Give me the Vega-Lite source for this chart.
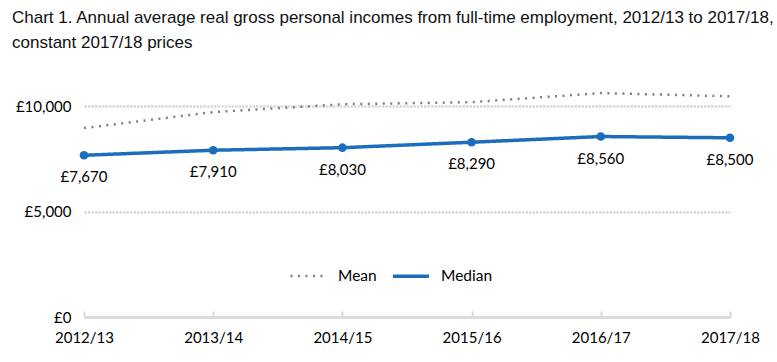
{
  "$schema": "https://vega.github.io/schema/vega-lite/v6.json",
  "autosize": "none",
  "width": 646,
  "height": 253,
  "padding": {"left": 84, "top": 64, "right": 47, "bottom": 45},
  "background": "white",
  "title": {
    "text": ["Chart 1. Annual average real gross personal incomes from full-time employment, 2012/13 to 2017/18,", "constant 2017/18 prices"],
    "anchor": "start",
    "frame": "group",
    "dx": -72,
    "offset": 12,
    "font": "Liberation Sans Narrow, Arial Narrow, Liberation Sans, sans-serif",
    "fontSize": 17,
    "fontWeight": "normal",
    "color": "#111111",
    "lineHeight": 25
  },
  "config": {
    "view": {"stroke": null},
    "font": "Lato",
    "axis": {"labelFont": "Lato", "labelFontSize": 15, "labelColor": "#000000", "titleFont": "Lato"},
    "legend": {"labelFont": "Lato", "labelFontSize": 15.5, "labelColor": "#000000"}
  },
  "data": {
    "values": [
      {"year": "2012/13", "series": "Mean", "value": 8960},
      {"year": "2013/14", "series": "Mean", "value": 9720},
      {"year": "2014/15", "series": "Mean", "value": 10090},
      {"year": "2015/16", "series": "Mean", "value": 10190},
      {"year": "2016/17", "series": "Mean", "value": 10620},
      {"year": "2017/18", "series": "Mean", "value": 10470},
      {"year": "2012/13", "series": "Median", "value": 7670, "label": "£7,670"},
      {"year": "2013/14", "series": "Median", "value": 7910, "label": "£7,910"},
      {"year": "2014/15", "series": "Median", "value": 8030, "label": "£8,030"},
      {"year": "2015/16", "series": "Median", "value": 8290, "label": "£8,290"},
      {"year": "2016/17", "series": "Median", "value": 8560, "label": "£8,560"},
      {"year": "2017/18", "series": "Median", "value": 8500, "label": "£8,500"}
    ]
  },
  "encoding": {
    "x": {
      "field": "year",
      "type": "ordinal",
      "scale": {"type": "point", "padding": 0},
      "axis": {
        "title": null,
        "labelAngle": 0,
        "domainColor": "#d9d9d9",
        "domainWidth": 2.5,
        "tickColor": "#d9d9d9",
        "tickWidth": 2,
        "tickSize": -6,
        "labelPadding": 19,
        "labelOverlap": false,
        "labelBound": false
      }
    },
    "y": {
      "field": "value",
      "type": "quantitative",
      "scale": {"domain": [0, 12000], "nice": false},
      "axis": {
        "title": null,
        "values": [0, 5000, 10000],
        "labelExpr": "'£' + format(datum.value, ',')",
        "domain": false,
        "ticks": false,
        "labelPadding": 13,
        "gridColor": "#d9d9d9",
        "gridWidth": 2.5,
        "gridDash": [2.5, 1]
      }
    }
  },
  "layer": [
    {
      "mark": {"type": "line", "strokeCap": "butt"},
      "encoding": {
        "color": {
          "field": "series",
          "type": "nominal",
          "scale": {"domain": ["Mean", "Median"], "range": ["#7f7f7f", "#1a6ebd"]},
          "legend": {
            "title": null,
            "orient": "none",
            "direction": "horizontal",
            "legendX": 205,
            "legendY": 192,
            "symbolType": "stroke",
            "symbolSize": 1300,
            "symbolStrokeWidth": 3,
            "labelOffset": 10,
            "columnPadding": 8
          }
        },
        "strokeDash": {
          "field": "series",
          "type": "nominal",
          "scale": {"domain": ["Mean", "Median"], "range": [[2, 5.5], [1, 0]]},
          "legend": {
            "title": null,
            "orient": "none",
            "direction": "horizontal",
            "legendX": 205,
            "legendY": 192,
            "symbolType": "stroke",
            "symbolSize": 1300,
            "symbolStrokeWidth": 3,
            "labelOffset": 10,
            "columnPadding": 8
          }
        },
        "strokeWidth": {
          "field": "series",
          "type": "nominal",
          "scale": {"domain": ["Mean", "Median"], "range": [2.5, 3.5]},
          "legend": null
        }
      }
    },
    {
      "transform": [{"filter": "datum.series === 'Median'"}],
      "mark": {"type": "point", "filled": true, "opacity": 1, "size": 75, "color": "#1a6ebd"}
    },
    {
      "transform": [{"filter": "datum.series === 'Median'"}],
      "mark": {"type": "text", "dy": 22, "fontSize": 15, "font": "Lato", "color": "#000000"},
      "encoding": {"text": {"field": "label"}}
    }
  ]
}
